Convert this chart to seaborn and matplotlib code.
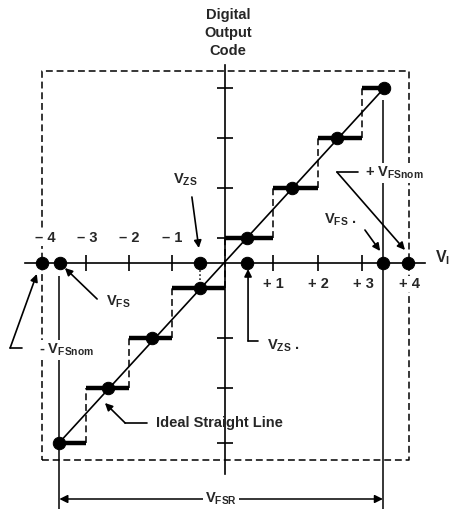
import matplotlib
matplotlib.use("Agg")
import matplotlib.pyplot as plt
import seaborn as sns

# transition voltages (ticks on the V_I axis)
transitions = [-3.02, -2.09, -1.15, 0.0, 1.04, 2.02, 2.98]
# output code of each step and the code centre (dot) on it
code_levels = [-3.6, -2.5, -1.5, -0.5, 0.5, 1.5, 2.5, 3.5]
code_centres = [-3.61, -2.54, -1.59, -0.54, 0.48, 1.46, 2.43, 3.46]
step_left = [-3.61, -3.02, -2.09, -1.15, 0.0, 1.04, 2.02, 2.98]
step_right = [-3.02, -2.09, -1.15, 0.0, 1.04, 2.02, 2.98, 3.46]

# marked voltages on the V_I axis
axis_points = [-3.98, -3.59, -0.54, 0.48, 3.43, 3.98]

# ideal straight line, end points
ideal_x = [-3.61, 3.46]
ideal_y = [-3.6, 3.5]

# nominal full scale box
box_x = [-3.98, 4.0]
box_y = [-3.94, 3.84]

y_ticks = [-3.6, -2.5, -1.5, 0.5, 1.5, 2.5, 3.5]
neg_labels = ["– 4", "– 3", "– 2", "– 1"]
neg_label_x = [-3.91, -3.0, -2.09, -1.15]
pos_labels = ["+ 1", "+ 2", "+ 3", "+ 4"]
pos_label_x = [1.06, 2.02, 3.0, 4.0]

sns.set_style("white")
plt.rcParams["font.family"] = ["Liberation Sans", "DejaVu Sans"]
plt.rcParams["mathtext.default"] = "regular"

fig = plt.figure(figsize=(4.51, 5.12), dpi=100)
ax = fig.add_axes([0, 0, 1, 1])
ax.set_xlim(-4.89, 4.91)
ax.set_ylim(-4.98, 5.26)

# axes through the origin
for side in ["top", "right"]:
    ax.spines[side].set_visible(False)
ax.spines["left"].set_position(("data", 0))
ax.spines["bottom"].set_position(("data", 0))
ax.spines["left"].set_bounds(-4.22, 3.96)
ax.spines["bottom"].set_bounds(-4.35, 4.35)
for s in ["left", "bottom"]:
    ax.spines[s].set_linewidth(1.2)
    ax.spines[s].set_color("black")
ax.set_xticks([t for t in transitions if t != 0])
ax.set_yticks(y_ticks)
ax.tick_params(direction="inout", length=11, width=1.2, color="black",
               bottom=True, left=True, labelbottom=False, labelleft=False)

dash = (0, (4.5, 2.5))
fs = 10.5
tw = "bold"
white = dict(fc="white", ec="none", pad=1.5)

# dashed box
ax.plot([box_x[0], box_x[1], box_x[1], box_x[0], box_x[0]],
        [box_y[0], box_y[0], box_y[1], box_y[1], box_y[0]],
        color="black", lw=1.1, linestyle=dash, zorder=1)

# ideal straight line
sns.lineplot(x=ideal_x, y=ideal_y, color="black", lw=1.2, ax=ax, zorder=3)

# staircase: thick treads, dashed risers
ax.hlines(code_levels, step_left, step_right, colors="black", lw=3.2, zorder=3)
ax.vlines(transitions, code_levels[:-1], code_levels[1:], colors="black",
          lw=1.1, linestyles=[dash], zorder=2)
ax.vlines([code_centres[3]], [code_levels[3]], [0], colors="black", lw=1.1,
          linestyles=":", zorder=2)

# dots
sns.scatterplot(x=code_centres, y=code_levels, s=80, color="black",
                edgecolor="black", ax=ax, zorder=5)
sns.scatterplot(x=axis_points, y=[0] * len(axis_points), s=80, color="black",
                edgecolor="black", ax=ax, zorder=5)

# full scale range verticals and arrow
ax.vlines([-3.6], [-4.92], [-0.26], colors="black", lw=1.1)
ax.vlines([3.43], [-4.92], [3.26], colors="black", lw=1.1)
ax.annotate("", xy=(-3.6, -4.72), xytext=(3.43, -4.72),
            arrowprops=dict(arrowstyle="<|-|>", color="black", lw=1.1,
                            mutation_scale=12, shrinkA=0, shrinkB=0))
ax.text(-0.09, -4.72, r"$V_{FSR}$", ha="center", va="center", fontsize=fs,
        fontweight=tw, bbox=white, zorder=6)

# axis labels
ax.text(0.07, 4.6, "Digital\nOutput\nCode", ha="center", va="center",
        fontsize=fs, fontweight=tw, linespacing=1.4)
ax.text(4.57, 0.1, r"$V_I$", ha="left", va="center", fontsize=fs + 1,
        fontweight=tw)
for lab, x in zip(neg_labels, neg_label_x):
    ax.text(x, 0.5, lab, ha="center", va="center", fontsize=fs, fontweight=tw,
            bbox=dict(fc="white", ec="none", pad=0.5), zorder=4)
for lab, x in zip(pos_labels, pos_label_x):
    ax.text(x, -0.42, lab, ha="center", va="center", fontsize=fs, fontweight=tw,
            bbox=dict(fc="white", ec="none", pad=0.5), zorder=4)

arrow = dict(arrowstyle="-|>", color="black", lw=1.2, mutation_scale=11,
             shrinkA=0, shrinkB=0)

# V_ZS (negative side)
ax.text(-0.87, 1.66, r"$V_{ZS}$", ha="center", va="center", fontsize=fs,
        fontweight=tw)
ax.annotate("", xy=(-0.57, 0.3), xytext=(-0.72, 1.32), arrowprops=arrow)

# + V_FSnom
ax.text(3.04, 1.8, r"+ $V_{FSnom}$", ha="left", va="center", fontsize=fs,
        fontweight=tw, bbox=white, zorder=6)
ax.plot([2.89, 2.43], [1.82, 1.82], color="black", lw=1.2)
ax.annotate("", xy=(3.91, 0.26), xytext=(2.43, 1.82), arrowprops=arrow)

# V_FS+
ax.text(2.5, 0.86, r"$V_{FS}$ .", ha="center", va="center", fontsize=fs,
        fontweight=tw)
ax.annotate("", xy=(3.37, 0.24), xytext=(3.04, 0.66), arrowprops=arrow)

# V_FS-
ax.text(-2.33, -0.78, r"$V_{FS}$", ha="center", va="center", fontsize=fs,
        fontweight=tw)
ax.annotate("", xy=(-3.48, -0.1), xytext=(-2.78, -0.72), arrowprops=arrow)

# - V_FSnom
ax.text(-4.05, -1.74, r"- $V_{FSnom}$", ha="left", va="center", fontsize=fs,
        fontweight=tw, bbox=white, zorder=6)
ax.plot([-4.41, -4.67], [-1.7, -1.7], color="black", lw=1.2)
ax.annotate("", xy=(-4.09, -0.22), xytext=(-4.67, -1.7), arrowprops=arrow)

# V_ZS+
ax.text(0.91, -1.66, r"$V_{ZS}$ .", ha="left", va="center", fontsize=fs,
        fontweight=tw)
ax.plot([0.72, 0.5], [-1.56, -1.56], color="black", lw=1.2)
ax.annotate("", xy=(0.5, -0.12), xytext=(0.5, -1.56), arrowprops=arrow)

# Ideal straight line label
ax.text(-1.5, -3.2, "Ideal Straight Line", ha="left", va="center",
        fontsize=fs, fontweight=tw)
ax.plot([-1.7, -2.17], [-3.2, -3.2], color="black", lw=1.2)
ax.annotate("", xy=(-2.61, -2.8), xytext=(-2.17, -3.2), arrowprops=arrow)

fig.savefig("out.png", dpi=100, facecolor="white")
